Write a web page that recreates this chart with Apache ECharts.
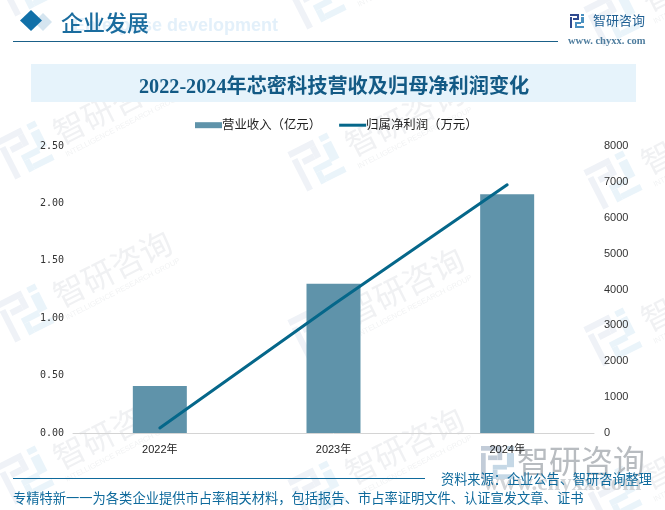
<!DOCTYPE html>
<html>
<head>
<meta charset="utf-8">
<script src="https://cdn.jsdelivr.net/npm/echarts@6/dist/echarts.min.js"></script>
<style>
html, body { margin: 0; padding: 0; background: #fff; }
#chart { width: 665px; height: 510px; }
</style>
</head>
<body>
<div id="chart"></div>
<script>
var categories = ['2022年', '2023年', '2024年'];
var revenue = [0.41, 1.30, 2.08];
var netProfit = [140, 3580, 6920];
var leftTicks = ['0.00', '0.50', '1.00', '1.50', '2.00', '2.50'];

var sans = '"Liberation Sans", "Noto Sans CJK SC", sans-serif';
var mono = '"DejaVu Sans Mono", monospace';
var serif = '"Liberation Serif", "Noto Sans CJK SC", serif';
var cjk = '"Noto Sans CJK SC", sans-serif';

// logo pieces on a 14x14 grid
var logoDark = [[0, 0, 9, 2], [7, 2, 2, 4], [3, 4, 4, 2], [0, 3, 2, 11]];
var logoLight = [[11, 0, 3, 2], [11, 3, 3, 6], [5, 8, 6, 2], [5, 10, 2, 4], [7, 12, 7, 2]];

// logo centre of each watermark stamp
var stamps = [
    [25, -13], [317, 0], [613, 17],
    [25, 150], [317, 162], [613, 180],
    [25, 313], [317, 330], [613, 337],
    [25, 475], [317, 490], [613, 495]
];

function makeLogo(x, y, size, dark, light, z) {
    var unit = size / 14;
    var children = [];
    logoDark.forEach(function (r) {
        children.push({ type: 'rect', z: z, shape: { x: r[0] * unit, y: r[1] * unit, width: r[2] * unit, height: r[3] * unit }, style: { fill: dark } });
    });
    logoLight.forEach(function (r) {
        children.push({ type: 'rect', z: z, shape: { x: r[0] * unit, y: r[1] * unit, width: r[2] * unit, height: r[3] * unit }, style: { fill: light } });
    });
    return { type: 'group', x: x, y: y, silent: true, children: children };
}

function makeWatermarks() {
    var items = [];
    stamps.forEach(function (p) {
        items.push({
            type: 'group', x: p[0], y: p[1], rotation: 0.47, silent: true,
            children: [
                makeLogo(-22, -22, 44, '#eff2f7', '#eaf4fa', -10),
                { type: 'text', z: -10, style: { x: 98, y: 0, text: '智研咨询', fill: '#f0f1f3', font: '32px ' + cjk, textAlign: 'center', textVerticalAlign: 'middle' } },
                { type: 'text', z: -10, style: { x: 98, y: 23, text: 'INTELLIGENCE RESEARCH GROUP', fill: '#f2f3f4', font: '7.5px ' + sans, textAlign: 'center', textVerticalAlign: 'middle' } }
            ]
        });
    });
    return items;
}

function makeDecor() {
    return [
        // header
        { type: 'polygon', z: 1, shape: { points: [[43, 13], [52, 22], [43, 31], [34, 22]] }, style: { fill: '#d5e5f0' } },
        { type: 'polygon', z: 2, shape: { points: [[31, 10], [42, 20.5], [31, 31], [20, 20.5]] }, style: { fill: '#1170a8' } },
        { type: 'text', z: 1, style: { x: 73, y: 26, text: 'Enterprise development', fill: '#e3f0fa', font: '700 18px ' + sans, textVerticalAlign: 'middle' } },
        { type: 'text', z: 2, style: { x: 61, y: 23, text: '企业发展', fill: '#1a6c9e', font: '500 22px ' + cjk, textVerticalAlign: 'middle' } },
        { type: 'rect', z: 1, shape: { x: 13, y: 41, width: 545, height: 1 }, style: { fill: '#1a6088' } },
        makeLogo(570, 14, 14, '#2f4a8f', '#4a90c0', 2),
        { type: 'text', z: 2, style: { x: 593, y: 20, text: '智研咨询', fill: '#1f5f93', font: '13px ' + cjk, textVerticalAlign: 'middle' } },
        { type: 'text', z: 2, style: { x: 568, y: 41, text: 'www. chyxx. com', fill: '#4f7d9e', font: '700 10.5px ' + serif, textVerticalAlign: 'middle' } },
        // title band
        { type: 'rect', z: -1, shape: { x: 31, y: 64, width: 605, height: 38 }, style: { fill: '#e6f3fb' } },
        // footer
        { type: 'rect', z: 1, shape: { x: 13, y: 478, width: 412, height: 1 }, style: { fill: '#0f6a9c' } },
        { type: 'text', z: 3, style: { x: 441, y: 479, text: '资料来源：企业公告、智研咨询整理', fill: '#0f6a9c', font: '13.2px ' + cjk, textVerticalAlign: 'middle' } },
        { type: 'text', z: 3, style: { x: 13, y: 498, text: '专精特新一一为各类企业提供市占率相关材料，包括报告、市占率证明文件、认证宣发文章、证书', fill: '#0f6a9c', font: '13.28px ' + cjk, textVerticalAlign: 'middle' } },
        // bottom right logo
        { type: 'text', z: -1, style: { x: 517, y: 461, text: '智研咨询', fill: '#b8bcc0', font: '32px ' + cjk, textVerticalAlign: 'middle' } },
        { type: 'text', z: -1, style: { x: 483, y: 484, text: 'www.chyxx.com', fill: '#d2d5d8', font: '700 23px ' + serif, textVerticalAlign: 'middle' } },
        makeLogo(481, 446, 33, '#c2ccd8', '#c5d8e6', -1)
    ];
}

var chart = echarts.init(document.getElementById('chart'));
chart.setOption({
    animation: false,
    backgroundColor: '#fff',
    title: {
        text: '2022-2024年芯密科技营收及归母净利润变化',
        left: 134,
        top: 73,
        textStyle: { color: '#135a85', fontSize: 20.2, fontWeight: 'bold', fontFamily: serif }
    },
    legend: {
        top: 114,
        left: 190,
        itemWidth: 27,
        itemHeight: 6,
        itemGap: 18,
        textStyle: { color: '#222', fontSize: 12.4, fontFamily: sans, padding: [0, 0, 0, -5] },
        data: [
            { name: '营业收入（亿元）', icon: 'rect' },
            { name: '归属净利润（万元）', icon: 'path://M0 0H27V3H0Z' }
        ]
    },
    grid: { left: 73, right: 71, top: 146, bottom: 77 },
    xAxis: {
        type: 'category',
        data: categories,
        axisTick: { show: false },
        axisLine: { lineStyle: { color: '#d4d4d4', width: 1 } },
        axisLabel: { color: '#222', fontSize: 11, margin: 11, fontFamily: sans }
    },
    yAxis: [
        {
            type: 'value', min: 0, max: 2.5, interval: 0.5,
            splitLine: { show: false }, axisLine: { show: false }, axisTick: { show: false },
            axisLabel: {
                color: '#333', fontSize: 10, margin: 9, fontFamily: mono, padding: [2, 0, 0, 0],
                formatter: function (v) { return leftTicks[Math.round(v / 0.5)]; }
            }
        },
        {
            type: 'value', min: 0, max: 8000, interval: 1000,
            splitLine: { show: false }, axisLine: { show: false }, axisTick: { show: false },
            axisLabel: {
                color: '#333', fontSize: 11, margin: 10, fontFamily: sans, padding: [2, 0, 0, 0],
                formatter: function (v) { return String(v); }
            }
        }
    ],
    series: [
        {
            name: '营业收入（亿元）', type: 'bar', yAxisIndex: 0, data: revenue, barWidth: 54,
            itemStyle: { color: '#5f93aa' }
        },
        {
            name: '归属净利润（万元）', type: 'line', yAxisIndex: 1, data: netProfit,
            symbol: 'none', itemStyle: { color: '#05678a' }, lineStyle: { color: '#05678a', width: 3, cap: 'round' }
        }
    ],
    graphic: { elements: makeWatermarks().concat(makeDecor()) }
});
</script>
</body>
</html>
